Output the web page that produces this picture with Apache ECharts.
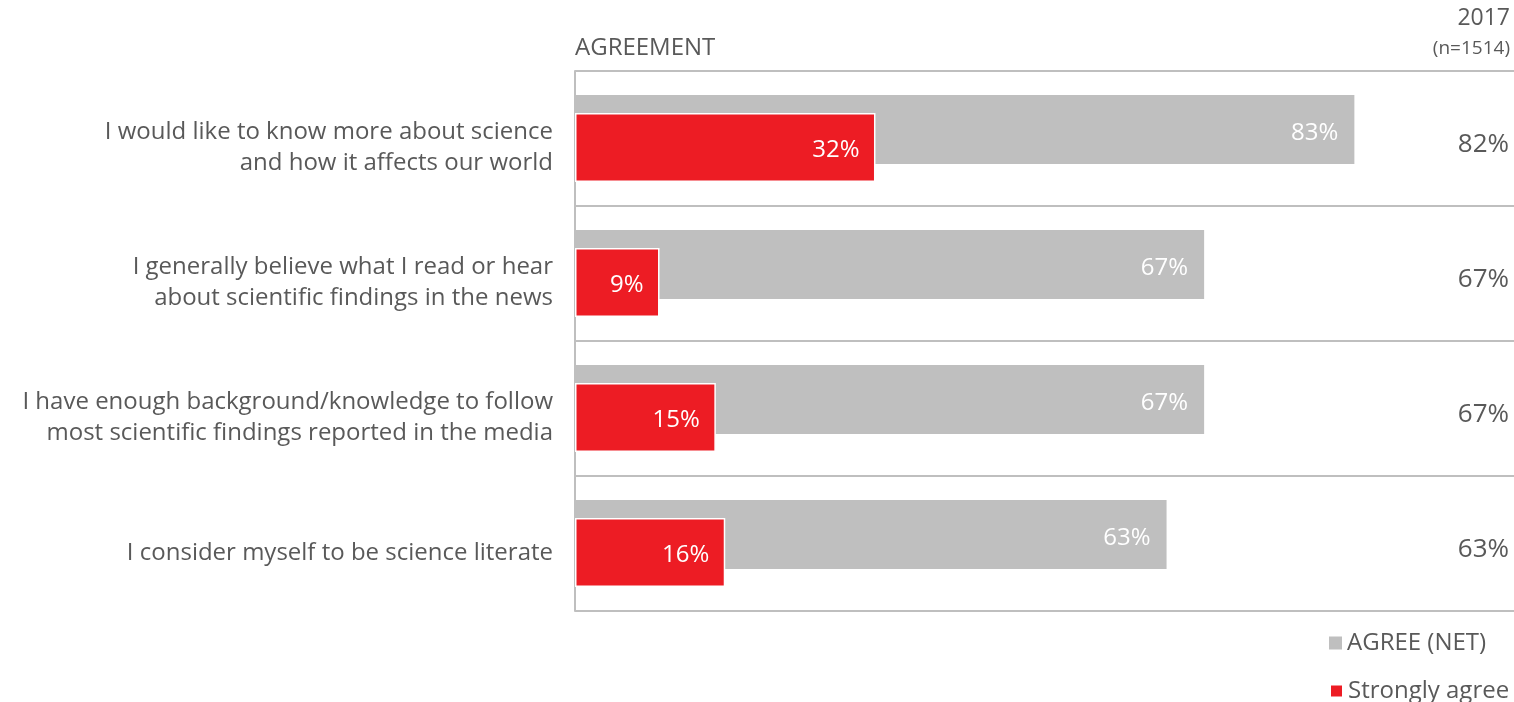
<!DOCTYPE html>
<html>
<head>
<meta charset="utf-8">
<script src="https://cdn.jsdelivr.net/npm/echarts@6/dist/echarts.min.js"></script>
<style>
  html, body { margin: 0; padding: 0; background: #ffffff; }
  #chart { width: 1514px; height: 702px; }
</style>
</head>
<body>
<div id="chart"></div>
<script>
// Survey statements (wrapped onto two lines where needed)
const statements = [
  'I would like to know more about science\nand how it affects our world',
  'I generally believe what I read or hear\nabout scientific findings in the news',
  'I have enough background/knowledge to follow\nmost scientific findings reported in the media',
  'I consider myself to be science literate'
];
// Current wave, percent
const agreeNet = [83, 67, 67, 63];
const stronglyAgree = [32, 9, 15, 16];
// Previous wave (2017), percent
const agree2017 = [82, 67, 67, 63];
const seriesNames = ['AGREE (NET)', 'Strongly agree'];

const FONT = '"Open Sans", "Noto Sans", sans-serif';
const TEXT = '#595959';
const GRAY = '#BFBFBF';
const RED = '#ED1C24';

const chart = echarts.init(document.getElementById('chart'), null, { renderer: 'canvas' });

const legendText = { fontFamily: FONT, fontSize: 24, color: TEXT };

// A thin blank first line nudges a label block down below the row centre
const nudged = (text, style) =>
  '{sp| }\n' + text.split('\n').map(line => '{' + style + '|' + line + '}').join('\n');

chart.setOption({
  backgroundColor: '#ffffff',
  animation: false,
  textStyle: { fontFamily: FONT },
  title: [
    { text: 'AGREEMENT', left: 575, top: 36, padding: 0,
      textStyle: { fontFamily: FONT, fontSize: 24, fontWeight: 'normal', color: TEXT } },
    { text: '2017', right: 4, top: 7, padding: 0,
      textStyle: { fontFamily: FONT, fontSize: 23, fontWeight: 'normal', color: TEXT } },
    { text: '(n=1514)', right: 4, top: 39, padding: 0,
      textStyle: { fontFamily: FONT, fontSize: 19, fontWeight: 'normal', color: TEXT } }
  ],
  legend: [
    {
      left: 1329, top: 631, padding: 0,
      itemWidth: 13, itemHeight: 13, icon: 'rect',
      data: [seriesNames[0]],
      textStyle: legendText
    },
    {
      left: 1329, top: 679, padding: 0,
      itemWidth: 13, itemHeight: 13, icon: 'rect',
      data: [seriesNames[1]],
      textStyle: legendText
    }
  ],
  grid: { left: 575, right: 0, top: 71, height: 540, containLabel: false },
  xAxis: {
    type: 'value', min: 0, max: 100,
    show: false
  },
  yAxis: [
    {
      type: 'category',
      inverse: true,
      data: statements,
      axisLine: { show: true, lineStyle: { color: GRAY, width: 2 } },
      axisTick: { show: false },
      splitLine: { show: true, lineStyle: { color: GRAY, width: 2 } },
      axisLabel: {
        margin: 22,
        align: 'right',
        formatter: v => nudged(v, 't'),
        rich: {
          sp: { fontSize: 1, lineHeight: 19 },
          t: { fontFamily: FONT, fontSize: 24, color: TEXT, lineHeight: 31, align: 'right' }
        }
      }
    },
    {
      type: 'category',
      inverse: true,
      position: 'right',
      data: agree2017.map(v => v + '%'),
      axisLine: { show: false },
      axisTick: { show: false },
      splitLine: { show: false },
      axisLabel: {
        inside: true, margin: 5,
        formatter: v => nudged(v, 'v'),
        rich: {
          sp: { fontSize: 1, lineHeight: 12 },
          v: { fontFamily: FONT, fontSize: 26, color: TEXT, align: 'right' }
        }
      }
    }
  ],
  series: [
    {
      name: seriesNames[0],
      type: 'bar',
      data: agreeNet,
      barWidth: 69,
      barGap: '-74%',
      itemStyle: { color: GRAY },
      label: {
        show: true, position: 'insideRight', distance: 16, offset: [0, 4],
        formatter: p => p.value + '%',
        fontFamily: FONT, fontSize: 24, color: '#ffffff'
      }
    },
    {
      name: seriesNames[1],
      type: 'bar',
      data: stronglyAgree,
      barWidth: 69,
      barGap: '-74%',
      itemStyle: { color: RED, borderColor: '#ffffff', borderWidth: 1.5 },
      label: {
        show: true, position: 'insideRight', distance: 16, offset: [0, 3],
        formatter: p => p.value + '%',
        fontFamily: FONT, fontSize: 24, color: '#ffffff'
      }
    }
  ]
});
</script>
</body>
</html>
